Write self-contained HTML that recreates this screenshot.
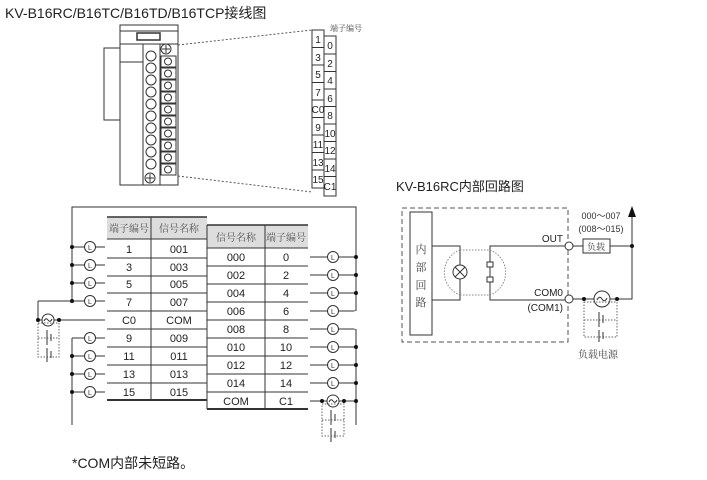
<!DOCTYPE html>
<html><head><meta charset="utf-8"><style>
html,body{margin:0;padding:0;background:#fff;}
svg{display:block;font-family:"Liberation Sans","Noto Sans CJK SC",sans-serif;}
.c{font-family:"Noto Serif CJK SC","Noto Sans CJK SC",serif;}
</style></head><body>
<svg width="707" height="480" viewBox="0 0 707 480" xmlns="http://www.w3.org/2000/svg">
<rect width="707" height="480" fill="#fff"/>
<text x="5" y="18" font-size="14" fill="#222">KV-B16RC/B16TC/B16TD/B16TCP<tspan font-family="Noto Sans CJK SC">接线图</tspan></text>

<!-- module -->
<g stroke="#333" stroke-width="1" fill="none">
<rect x="104" y="48" width="16" height="72" fill="#fff"/>
<rect x="120" y="25" width="58" height="160" fill="#fff"/>
<line x1="120" y1="31" x2="178" y2="31"/>
<line x1="120" y1="44" x2="178" y2="44"/>
<line x1="120" y1="62" x2="143" y2="62"/>
<rect x="137" y="33" width="23" height="7" fill="#fff" stroke-width="1.5"/>
<line x1="143" y1="44" x2="143" y2="185"/>
<line x1="160" y1="44" x2="160" y2="185"/>
<circle cx="166" cy="49" r="5"/>
<line x1="162" y1="49" x2="170" y2="49"/><line x1="166" y1="45" x2="166" y2="53"/>
<circle cx="150" cy="178" r="5"/>
<line x1="146" y1="178" x2="154" y2="178"/><line x1="150" y1="174" x2="150" y2="182"/>
</g>
<g stroke="#333" fill="#fff" stroke-width="1">
<rect x="161" y="56" width="15" height="11"/><circle cx="168" cy="61.5" r="3.5"/>
<rect x="161" y="68" width="15" height="11"/><circle cx="168" cy="73.5" r="3.5"/>
<rect x="161" y="80" width="15" height="11"/><circle cx="168" cy="85.5" r="3.5"/>
<rect x="161" y="92" width="15" height="11"/><circle cx="168" cy="97.5" r="3.5"/>
<rect x="161" y="104" width="15" height="11"/><circle cx="168" cy="109.5" r="3.5"/>
<rect x="161" y="116" width="15" height="11"/><circle cx="168" cy="121.5" r="3.5"/>
<rect x="161" y="128" width="15" height="11"/><circle cx="168" cy="133.5" r="3.5"/>
<rect x="161" y="140" width="15" height="11"/><circle cx="168" cy="145.5" r="3.5"/>
<rect x="161" y="152" width="15" height="11"/><circle cx="168" cy="157.5" r="3.5"/>
<rect x="161" y="164" width="15" height="11"/><circle cx="168" cy="169.5" r="3.5"/>
<circle cx="151" cy="56" r="5"/><circle cx="151" cy="68" r="5"/><circle cx="151" cy="80" r="5"/>
<circle cx="151" cy="92" r="5"/><circle cx="151" cy="104" r="5"/><circle cx="151" cy="116" r="5"/>
<circle cx="151" cy="128" r="5"/><circle cx="151" cy="140" r="5"/><circle cx="151" cy="152" r="5"/>
<circle cx="151" cy="164" r="5"/>
</g>
<g stroke="#555" stroke-dasharray="2,2" fill="none">
<line x1="178" y1="45" x2="312" y2="30"/>
<line x1="178" y1="176" x2="312" y2="192"/>
</g>
<!-- terminal block -->
<g stroke="#333" fill="#fff">
<rect x="312" y="30" width="12" height="158"/>
<rect x="324" y="36" width="12" height="160"/>
<line x1="312" y1="47.5" x2="324" y2="47.5"/><line x1="312" y1="65" x2="324" y2="65"/>
<line x1="312" y1="82.5" x2="324" y2="82.5"/><line x1="312" y1="100" x2="324" y2="100"/>
<line x1="312" y1="117.5" x2="324" y2="117.5"/><line x1="312" y1="135" x2="324" y2="135"/>
<line x1="312" y1="152.5" x2="324" y2="152.5"/><line x1="312" y1="170" x2="324" y2="170"/>
<line x1="324" y1="54" x2="336" y2="54"/><line x1="324" y1="71.5" x2="336" y2="71.5"/>
<line x1="324" y1="89" x2="336" y2="89"/><line x1="324" y1="106.5" x2="336" y2="106.5"/>
<line x1="324" y1="124" x2="336" y2="124"/><line x1="324" y1="141.5" x2="336" y2="141.5"/>
<line x1="324" y1="159" x2="336" y2="159"/><line x1="324" y1="176.5" x2="336" y2="176.5"/>
</g>
<text x="330" y="31" font-size="8" class="c" fill="#444">端子编号</text>
<g font-size="10" fill="#222" text-anchor="middle">
<text x="318" y="43">1</text><text x="318" y="61">3</text><text x="318" y="78">5</text>
<text x="318" y="96">7</text><text x="318" y="113">C0</text><text x="318" y="131">9</text>
<text x="318" y="148">11</text><text x="318" y="166">13</text><text x="318" y="183">15</text>
<text x="330" y="49">0</text><text x="330" y="67">2</text><text x="330" y="84">4</text>
<text x="330" y="102">6</text><text x="330" y="119">8</text><text x="330" y="137">10</text>
<text x="330" y="154">12</text><text x="330" y="172">14</text><text x="330" y="190">C1</text>
</g>

<!-- main wiring frame -->
<g stroke="#333" stroke-width="1" fill="none">
<polyline points="72,300 72,207 356,207 356,425"/>
<line x1="72" y1="338" x2="72" y2="425"/>
</g>
<!-- left table -->
<rect x="107" y="217" width="100" height="22" fill="#ddd"/>
<rect x="207" y="225" width="101" height="23" fill="#ddd"/>
<g stroke="#333" stroke-width="1" fill="none">
<line x1="107" y1="217" x2="207" y2="217" stroke-width="1.5"/>
<line x1="151" y1="217" x2="151" y2="400"/>
<line x1="107" y1="239" x2="207" y2="239"/>
<line x1="107" y1="258" x2="207" y2="258"/><line x1="107" y1="276" x2="207" y2="276"/>
<line x1="107" y1="293" x2="207" y2="293"/><line x1="107" y1="311" x2="207" y2="311"/>
<line x1="107" y1="329" x2="207" y2="329"/><line x1="107" y1="347" x2="207" y2="347"/>
<line x1="107" y1="365" x2="207" y2="365"/><line x1="107" y1="383" x2="207" y2="383"/>
<line x1="107" y1="400" x2="207" y2="400" stroke-width="2"/>
<line x1="207" y1="225" x2="308" y2="225" stroke-width="1.5"/>
<line x1="207" y1="225" x2="207" y2="409"/>
<line x1="265" y1="225" x2="265" y2="409"/>
<line x1="207" y1="248" x2="308" y2="248"/>
<line x1="207" y1="266" x2="308" y2="266"/><line x1="207" y1="284" x2="308" y2="284"/>
<line x1="207" y1="302" x2="308" y2="302"/><line x1="207" y1="320" x2="308" y2="320"/>
<line x1="207" y1="338" x2="308" y2="338"/><line x1="207" y1="356" x2="308" y2="356"/>
<line x1="207" y1="374" x2="308" y2="374"/><line x1="207" y1="392" x2="308" y2="392"/>
<line x1="207" y1="409" x2="308" y2="409" stroke-width="2"/>
</g>
<g font-size="10" class="c" fill="#555" text-anchor="middle">
<text x="129" y="232">端子编号</text><text x="179" y="232">信号名称</text>
<text x="236" y="241">信号名称</text><text x="286" y="241">端子编号</text>
</g>
<g font-size="11" fill="#222" text-anchor="middle">
<text x="129" y="253">1</text><text x="179" y="253">001</text>
<text x="129" y="271">3</text><text x="179" y="271">003</text>
<text x="129" y="288">5</text><text x="179" y="288">005</text>
<text x="129" y="306">7</text><text x="179" y="306">007</text>
<text x="129" y="324">C0</text><text x="179" y="324">COM</text>
<text x="129" y="342">9</text><text x="179" y="342">009</text>
<text x="129" y="360">11</text><text x="179" y="360">011</text>
<text x="129" y="378">13</text><text x="179" y="378">013</text>
<text x="129" y="396">15</text><text x="179" y="396">015</text>
<text x="236" y="261">000</text><text x="286" y="261">0</text>
<text x="236" y="279">002</text><text x="286" y="279">2</text>
<text x="236" y="297">004</text><text x="286" y="297">4</text>
<text x="236" y="315">006</text><text x="286" y="315">6</text>
<text x="236" y="333">008</text><text x="286" y="333">8</text>
<text x="236" y="351">010</text><text x="286" y="351">10</text>
<text x="236" y="369">012</text><text x="286" y="369">12</text>
<text x="236" y="387">014</text><text x="286" y="387">14</text>
<text x="236" y="405">COM</text><text x="286" y="405">C1</text>
</g>
<!-- left lamps -->
<g stroke="#333" fill="#fff" stroke-width="1">
<line x1="72" y1="247" x2="105" y2="247"/><line x1="72" y1="265" x2="105" y2="265"/>
<line x1="72" y1="283" x2="105" y2="283"/><line x1="38" y1="301" x2="105" y2="301"/>
<line x1="72" y1="338" x2="105" y2="338"/><line x1="72" y1="356" x2="105" y2="356"/>
<line x1="72" y1="374" x2="105" y2="374"/><line x1="72" y1="392" x2="105" y2="392"/>
<line x1="38" y1="301" x2="38" y2="320"/>
<line x1="38" y1="320" x2="105" y2="320"/>
<circle cx="90" cy="247" r="5.5"/><circle cx="90" cy="265" r="5.5"/>
<circle cx="90" cy="283" r="5.5"/><circle cx="90" cy="301" r="5.5"/>
<circle cx="90" cy="338" r="5.5"/><circle cx="90" cy="356" r="5.5"/>
<circle cx="90" cy="374" r="5.5"/><circle cx="90" cy="392" r="5.5"/>
<circle cx="48" cy="320" r="6"/>
</g>
<g font-size="7" fill="#333" text-anchor="middle">
<text x="90" y="250">L</text><text x="90" y="268">L</text><text x="90" y="286">L</text><text x="90" y="304">L</text>
<text x="90" y="341">L</text><text x="90" y="359">L</text><text x="90" y="377">L</text><text x="90" y="395">L</text>
</g>
<path d="M44 321 q2 -4 4 -1 q2 3 4 -1" stroke="#333" fill="none"/>
<g fill="#111">
<circle cx="72" cy="247" r="2"/><circle cx="72" cy="265" r="2"/><circle cx="72" cy="283" r="2"/><circle cx="72" cy="301" r="2"/>
<circle cx="72" cy="356" r="2"/><circle cx="72" cy="374" r="2"/><circle cx="72" cy="392" r="2"/>
<circle cx="38" cy="320" r="2"/><circle cx="59" cy="320" r="2"/>
</g>
<g stroke="#666" stroke-dasharray="1.5,1.5" fill="none">
<rect x="38" y="323" width="21" height="34"/>
<line x1="38" y1="338" x2="59" y2="338"/>
</g>
<g stroke="#333"><line x1="47" y1="330" x2="47" y2="345"/><line x1="51" y1="334" x2="51" y2="341"/>
<line x1="47" y1="348" x2="47" y2="362"/><line x1="51" y1="351" x2="51" y2="358"/></g>

<!-- right lamps -->
<g stroke="#333" fill="#fff" stroke-width="1">
<line x1="310" y1="257" x2="356" y2="257"/><line x1="310" y1="275" x2="356" y2="275"/>
<line x1="310" y1="293" x2="356" y2="293"/><line x1="310" y1="311" x2="356" y2="311"/>
<line x1="310" y1="329" x2="356" y2="329"/><line x1="310" y1="347" x2="356" y2="347"/>
<line x1="310" y1="365" x2="356" y2="365"/><line x1="310" y1="383" x2="356" y2="383"/>
<line x1="310" y1="401" x2="356" y2="401"/>
<circle cx="333" cy="257" r="5.5"/><circle cx="333" cy="275" r="5.5"/>
<circle cx="333" cy="293" r="5.5"/><circle cx="333" cy="311" r="5.5"/>
<circle cx="333" cy="329" r="5.5"/><circle cx="333" cy="347" r="5.5"/>
<circle cx="333" cy="365" r="5.5"/><circle cx="333" cy="383" r="5.5"/>
<circle cx="333" cy="401" r="6"/>
</g>
<g font-size="7" fill="#333" text-anchor="middle">
<text x="333" y="260">L</text><text x="333" y="278">L</text><text x="333" y="296">L</text><text x="333" y="314">L</text>
<text x="333" y="332">L</text><text x="333" y="350">L</text><text x="333" y="368">L</text><text x="333" y="386">L</text>
</g>
<path d="M329 402 q2 -4 4 -1 q2 3 4 -1" stroke="#333" fill="none"/>
<g fill="#111">
<circle cx="356" cy="257" r="2"/><circle cx="356" cy="275" r="2"/><circle cx="356" cy="293" r="2"/>
<circle cx="356" cy="347" r="2"/><circle cx="356" cy="365" r="2"/><circle cx="356" cy="383" r="2"/>
<circle cx="356" cy="401" r="2"/><circle cx="322" cy="401" r="2"/><circle cx="344" cy="401" r="2"/>
</g>
<line x1="356" y1="311" x2="356" y2="329" stroke="#fff" stroke-width="3"/>
<g stroke="#666" stroke-dasharray="1.5,1.5" fill="none">
<rect x="322" y="404" width="22" height="32"/>
<line x1="322" y1="420" x2="344" y2="420"/>
</g>
<g stroke="#333"><line x1="331" y1="410" x2="331" y2="425"/><line x1="335" y1="414" x2="335" y2="421"/>
<line x1="331" y1="428" x2="331" y2="442"/><line x1="335" y1="431" x2="335" y2="438"/></g>

<text x="72" y="468" font-size="14" fill="#222">*COM<tspan font-family="Noto Sans CJK SC">内部未短路。</tspan></text>

<!-- internal circuit -->
<text x="396" y="191" font-size="13" fill="#222">KV-B16RC<tspan font-family="Noto Sans CJK SC">内部回路图</tspan></text>
<rect x="402" y="208" width="166" height="134" fill="none" stroke="#555" stroke-dasharray="5,3"/>
<rect x="410" y="212" width="22" height="123" fill="#fff" stroke="#333"/>
<g font-size="11" class="c" fill="#444" text-anchor="middle">
<text x="421" y="253">内</text><text x="421" y="271">部</text><text x="421" y="289">回</text><text x="421" y="306">路</text>
</g>
<g stroke="#333" fill="none">
<polyline points="432,246 460,246 460,300 432,300"/>
<polyline points="565,246 490,246 490,300 565,300"/>
</g>
<g stroke="#888" stroke-dasharray="1.5,1.5" fill="none">
<path d="M460 250 A24 24 0 0 0 460 295"/>
<path d="M490 250 A24 24 0 0 1 490 295"/>
<line x1="460" y1="250" x2="490" y2="250"/><line x1="460" y1="295" x2="490" y2="295"/>
</g>
<circle cx="460" cy="272" r="7" fill="#fff" stroke="#333"/>
<line x1="455" y1="267" x2="465" y2="277" stroke="#333"/><line x1="465" y1="267" x2="455" y2="277" stroke="#333"/>
<rect x="487" y="262" width="6" height="5" fill="#fff" stroke="#333"/>
<rect x="487" y="277" width="6" height="5" fill="#fff" stroke="#333"/>
<text x="563" y="242" font-size="10" text-anchor="end" fill="#222">OUT</text>
<text x="563" y="296" font-size="10" text-anchor="end" fill="#222">COM0</text>
<text x="563" y="311" font-size="10" text-anchor="end" fill="#222">(COM1)</text>
<g stroke="#333" fill="none">
<line x1="573" y1="246" x2="632" y2="246"/>
<polyline points="573,299 632,299 632,216"/>
</g>
<polygon points="632,206 628,217 636,217" fill="#111"/>
<circle cx="569" cy="246" r="4" fill="#fff" stroke="#333"/>
<circle cx="569" cy="299" r="4" fill="#fff" stroke="#333"/>
<rect x="583" y="239" width="27" height="14" fill="#fff" stroke="#333"/>
<text x="596" y="250" font-size="9" class="c" text-anchor="middle" fill="#444">负载</text>
<text x="601" y="219" font-size="9" text-anchor="middle" fill="#333">000～007</text>
<text x="601" y="232" font-size="9" text-anchor="middle" fill="#333">(008～015)</text>
<circle cx="602" cy="299" r="8" fill="#fff" stroke="#333"/>
<path d="M597 300 q2.5 -5 5 -1 q2.5 4 5 -1" stroke="#333" fill="none"/>
<g fill="#111"><circle cx="632" cy="246" r="2"/><circle cx="584" cy="299" r="2"/><circle cx="617" cy="299" r="2"/></g>
<g stroke="#666" stroke-dasharray="1.5,1.5" fill="none">
<rect x="584" y="302" width="33" height="35"/>
<line x1="584" y1="320" x2="617" y2="320"/>
</g>
<g stroke="#333"><line x1="599" y1="312" x2="599" y2="327"/><line x1="603" y1="315" x2="603" y2="323"/>
<line x1="599" y1="330" x2="599" y2="342"/><line x1="603" y1="332" x2="603" y2="339"/></g>
<text x="598" y="358" font-size="10" class="c" text-anchor="middle" fill="#444">负载电源</text>
</svg>
</body></html>
